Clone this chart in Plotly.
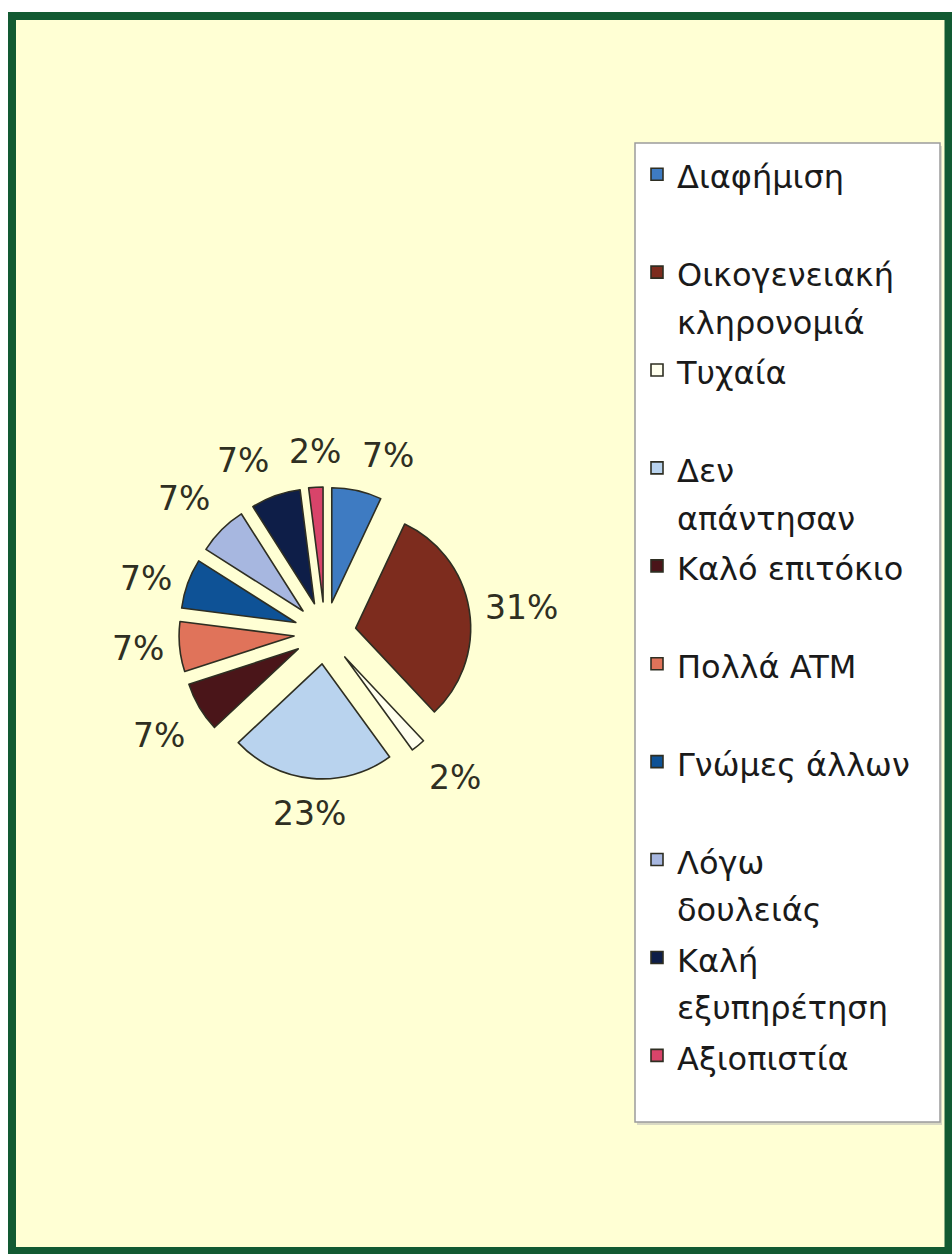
import math
import plotly.graph_objects as go

# Survey: reasons for choosing the bank (share of respondents, %)
categories = [
    "Διαφήμιση",
    "Οικογενειακή κληρονομιά",
    "Τυχαία",
    "Δεν απάντησαν",
    "Καλό επιτόκιο",
    "Πολλά ATM",
    "Γνώμες άλλων",
    "Λόγω δουλειάς",
    "Καλή εξυπηρέτηση",
    "Αξιοπιστία",
]
shares = [7, 31, 2, 23, 7, 7, 7, 7, 7, 2]
slice_colors = [
    "#3E7BC2",
    "#7D2C1E",
    "#FFFFEE",
    "#B9D3EE",
    "#4A1519",
    "#E0735A",
    "#0E5296",
    "#A7B7E0",
    "#0E1E48",
    "#D8446A",
]
# legend entries that run onto a second line
wrapped = {"Οικογενειακή κληρονομιά", "Δεν απάντησαν", "Λόγω δουλειάς", "Καλή εξυπηρέτηση"}

W, H = 952, 1254
CREAM = "#FFFFD4"
GREEN = "#125A32"
LABEL_COLOR = "#2F2F22"
LEGEND_GLYPH = 32        # px, size of the legend lettering
LEGEND_LINE = 36.5       # legend font size that sets the row pitch (2 rows per entry)

# pie placement (pixels) and explosion
PIE_CX, PIE_CY, PIE_R = 325, 633, 115
PULL = 0.27
LABEL_GAP = 14


def px_x(x):
    return x / W


def px_y(y):
    return 1 - y / H


def legend_label(name):
    span = "<span style='font-size:%dpx'>%s</span>"
    if name in wrapped:
        first, second = name.split(" ", 1)
        return span % (LEGEND_GLYPH, first) + "<br>" + span % (LEGEND_GLYPH, second)
    return span % (LEGEND_GLYPH, name) + "<br> "


half = PIE_R * (1 + PULL)
fig = go.Figure(
    go.Pie(
        labels=[legend_label(c) for c in categories],
        values=shares,
        sort=False,
        direction="clockwise",
        rotation=0,
        pull=PULL,
        marker=dict(colors=slice_colors, line=dict(color="#2E2E22", width=1.6)),
        textinfo="none",
        domain=dict(x=[px_x(PIE_CX - half), px_x(PIE_CX + half)],
                    y=[px_y(PIE_CY + half), px_y(PIE_CY - half)]),
        hoverinfo="label+percent",
    )
)

# percentage labels just outside each exploded slice, along its mid angle
total = sum(shares)
annotations = []
cum = 0
for v in shares:
    mid = math.radians((cum + v / 2) / total * 360)
    cum += v
    ux, uy = math.sin(mid), -math.cos(mid)          # screen direction (y down)
    dist = half + LABEL_GAP
    ax, ay = PIE_CX + dist * ux, PIE_CY + dist * uy
    xanchor = "left" if ux > 0.2 else ("right" if ux < -0.2 else "center")
    yanchor = "top" if uy > 0.5 else ("bottom" if uy < -0.5 else "middle")
    annotations.append(dict(
        x=px_x(ax), y=px_y(ay), xref="paper", yref="paper",
        text="%d%%" % round(v / total * 100), showarrow=False,
        xanchor=xanchor, yanchor=yanchor,
        font=dict(family="DejaVu Sans", size=33, color=LABEL_COLOR),
    ))

shapes = [
    # cream panel with the dark green frame
    dict(type="rect", xref="paper", yref="paper", layer="below",
         x0=px_x(12), x1=px_x(948.5), y0=px_y(16), y1=px_y(1251),
         fillcolor=CREAM, line=dict(color=GREEN, width=8)),
    # legend box shadow and box
    dict(type="rect", xref="paper", yref="paper", layer="below",
         x0=px_x(637), x1=px_x(942), y0=px_y(146), y1=px_y(1125),
         fillcolor="#D9D9C4", line=dict(width=0)),
    dict(type="rect", xref="paper", yref="paper", layer="below",
         x0=px_x(635), x1=px_x(940), y0=px_y(143), y1=px_y(1122),
         fillcolor="#FFFFFF", line=dict(color="#9C9C9C", width=1.5)),
]

fig.update_layout(
    width=W,
    height=H,
    margin=dict(l=0, r=0, t=0, b=0),
    paper_bgcolor="#FFFFFF",
    plot_bgcolor="rgba(0,0,0,0)",
    shapes=shapes,
    annotations=annotations,
    showlegend=True,
    legend=dict(
        x=px_x(637), y=px_y(144), xanchor="left", yanchor="top",
        bgcolor="rgba(0,0,0,0)", borderwidth=0,
        font=dict(family="DejaVu Sans", size=LEGEND_LINE, color="#1A1A1A"),
        valign="top", itemclick=False, itemdoubleclick=False,
    ),
)

fig.write_html("out.html")
